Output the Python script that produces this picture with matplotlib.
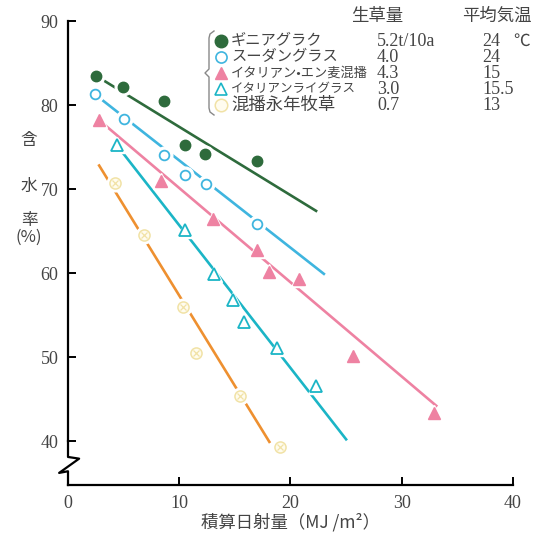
import matplotlib
matplotlib.use('Agg')
import matplotlib.pyplot as plt
from matplotlib.lines import Line2D

plt.rcParams['font.family'] = ['Noto Sans CJK JP', 'DejaVu Sans']

# データ
green_x = [2.5, 4.9, 8.6, 10.5, 12.3, 17.0]
green_y = [83.5, 82.2, 80.5, 75.2, 74.2, 73.3]
green_fit_x = [2.5, 22.3]
green_fit_y = [83.5, 67.4]

blue_x = [2.4, 5.0, 8.6, 10.5, 12.4, 17.0]
blue_y = [81.3, 78.3, 74.1, 71.7, 70.6, 65.8]
blue_fit_x = [2.4, 23.0]
blue_fit_y = [81.3, 59.9]

pink_x = [2.8, 8.4, 13.0, 17.0, 18.1, 20.8, 25.6, 32.9]
pink_y = [78.2, 71.0, 66.4, 62.8, 60.1, 59.3, 50.1, 43.3]
pink_fit_x = [2.8, 33.1]
pink_fit_y = [78.2, 44.2]

cyan_x = [4.4, 10.5, 13.1, 14.8, 15.8, 18.8, 22.3]
cyan_y = [75.2, 65.1, 59.9, 56.8, 54.2, 51.1, 46.5]
cyan_fit_x = [4.4, 25.0]
cyan_fit_y = [75.2, 40.2]

orange_x = [4.2, 6.8, 10.3, 11.5, 15.5, 19.1]
orange_y = [70.7, 64.5, 55.9, 50.5, 45.3, 39.3]
orange_fit_x = [2.8, 18.1]
orange_fit_y = [72.8, 39.9]

names = ['ギニアグラク', 'スーダングラス', 'イタリアン•エン麦混播', 'イタリアンライグラス', '混播永年牧草']
yields = ['5.2t/10a', '4.0', '4.3', '3.0', '0.7']
temps = ['24', '24', '15', '15.5', '13']

c_green = '#2e6b3c'
c_blue = '#3fb5df'
c_pink = '#ee82a2'
c_cyan = '#1bb5c6'
c_orange = '#ee9030'
c_pale = '#f1e2a6'
c_text = '#444444'
serif = 'Liberation Serif'

fig = plt.figure(figsize=(5.44, 5.37), dpi=100)
ax = fig.add_axes([0.125, 0.0968, 0.818, 0.864])
ax.set_xlim(0, 40)
ax.set_ylim(34.76, 90)

lw = 1.9
ax.plot(green_fit_x, green_fit_y, color=c_green, lw=lw, zorder=2)
ax.plot(blue_fit_x, blue_fit_y, color=c_blue, lw=lw, zorder=2)
ax.plot(pink_fit_x, pink_fit_y, color=c_pink, lw=lw, zorder=2)
ax.plot(cyan_fit_x, cyan_fit_y, color=c_cyan, lw=lw, zorder=2)
ax.plot(orange_fit_x, orange_fit_y, color=c_orange, lw=lw, zorder=2)

# 白い下地で線に切れ目を作る
for xs, ys, mk in [(green_x, green_y, 'o'), (blue_x, blue_y, 'o'), (pink_x, pink_y, '^'),
                   (cyan_x, cyan_y, '^'), (orange_x, orange_y, 'o')]:
    ax.plot(xs, ys, ls='none', marker=mk, ms=12, color='white', zorder=3)

ax.plot(green_x, green_y, ls='none', marker='o', ms=7.5, color=c_green, zorder=4)
ax.plot(blue_x, blue_y, ls='none', marker='o', ms=7, mfc='white', mec=c_blue, mew=1.3, zorder=4)
ax.plot(pink_x, pink_y, ls='none', marker='^', ms=8, color=c_pink, zorder=4)
ax.plot(cyan_x, cyan_y, ls='none', marker='^', ms=8, mfc='white', mec=c_cyan, mew=1.3, zorder=4)
ax.plot(orange_x, orange_y, ls='none', marker='o', ms=8, mfc='#fffcef', mec=c_pale, mew=1.1, zorder=4)
ax.plot(orange_x, orange_y, ls='none', marker='x', ms=5, mec=c_pale, mew=0.9, zorder=5)

# 軸
for s in ['top', 'right']:
    ax.spines[s].set_visible(False)
ax.spines['left'].set_bounds(40, 90)
ax.spines['left'].set_linewidth(1.6)
ax.spines['bottom'].set_linewidth(1.6)
ax.plot([0, 0, 1.0, -0.8, 0, 0], [40, 38.1, 37.9, 36.2, 36.4, 34.76],
        color='black', lw=1.6, clip_on=False, zorder=5)

ax.set_xticks([0, 10, 20, 30, 40])
ax.set_yticks([40, 50, 60, 70, 80, 90])
ax.tick_params(direction='in', length=6, width=1.4, labelsize=13, colors='black',
               labelcolor=c_text, pad=7)
for lab in ax.get_xticklabels() + ax.get_yticklabels():
    lab.set_family(serif)

ax.set_xlabel('積算日射量（MJ /m²）', fontsize=12.5, color=c_text, labelpad=1)


def fx(p):
    return p / 544


def fy(p):
    return 1 - p / 537


# 縦軸ラベル
for txt, yp in [('含', 140), ('水', 186), ('率', 221), ('(%)', 237)]:
    fig.text(fx(29), fy(yp), txt, fontsize=12, color=c_text, ha='center', va='center')

# 凡例（表形式）
fig.text(fx(377), fy(16), '生草量', fontsize=12.5, color=c_text, ha='center', va='center')
fig.text(fx(497), fy(16), '平均気温', fontsize=12.5, color=c_text, ha='center', va='center')

rows_y = [41, 57, 73, 89, 105]
leg_styles = [
    dict(marker='o', ms=9, color=c_green),
    dict(marker='o', ms=8, mfc='white', mec=c_blue, mew=1.2),
    dict(marker='^', ms=9, color=c_pink),
    dict(marker='^', ms=9, mfc='white', mec=c_cyan, mew=1.2),
    dict(marker='o', ms=9, mfc='#fffcef', mec=c_pale, mew=1.1),
]
name_sizes = [11, 11, 9.5, 9, 12.5]
for i, yp in enumerate(rows_y):
    fig.add_artist(Line2D([fx(221)], [fy(yp)], ls='none', transform=fig.transFigure, **leg_styles[i]))
    fig.text(fx(231), fy(yp), names[i], fontsize=name_sizes[i], color=c_text, va='center')
    fig.text(fx(377), fy(yp), yields[i], fontsize=13, family=serif, color=c_text, va='center')
    fig.text(fx(482), fy(yp), temps[i], fontsize=13, family=serif, color=c_text, va='center')
fig.text(fx(513), fy(rows_y[0]), '℃', fontsize=12, color=c_text, va='center')

# 中かっこ
brace_x = [214, 210, 209, 209, 205, 209, 209, 210, 214]
brace_y = [31, 34, 38, 69, 73, 77, 108, 112, 115]
fig.add_artist(Line2D([fx(v) for v in brace_x], [fy(v) for v in brace_y],
                      color='#888888', lw=1.0, transform=fig.transFigure))

fig.savefig('out.png', dpi=100)
